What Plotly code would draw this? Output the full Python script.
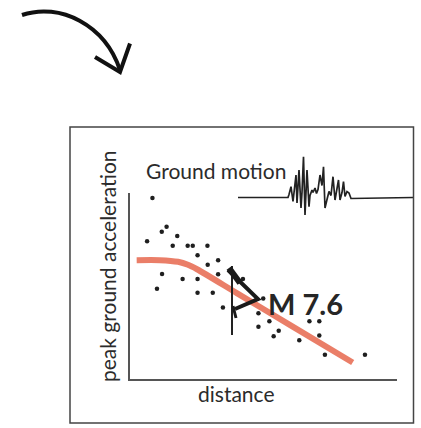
import plotly.graph_objects as go

W, H = 421, 428

# Observed peak ground acceleration vs. distance (arbitrary units, 0-100)
distance = [8.4, 13.7, 11.9, 17.7, 6.4, 16.0, 21.6, 23.5, 29.0, 25.3, 33.0,
            29.1, 12.0, 33.0, 19.7, 25.3, 42.3, 10.1, 25.3, 31.0, 34.8, 49.9,
            48.1, 52.2, 48.1, 55.7, 53.8, 63.4, 67.2, 70.9, 70.9, 73.0, 88.0]
pga = [97.3, 81.9, 79.2, 76.9, 74.1, 71.7, 71.7, 71.7, 71.7, 66.5, 63.8,
       61.4, 56.5, 56.3, 53.7, 53.7, 53.8, 48.5, 46.4, 46.4, 38.4, 43.3,
       35.3, 31.1, 28.1, 26.0, 23.0, 20.9, 31.1, 31.1, 23.4, 13.0, 13.0]

# Attenuation model (saturated near field, linear decay beyond)
model_distance = [2.5, 11.2, 18.0, 21.7, 25.1, 40.0, 60.0, 83.4]
model_pga = [63.9, 63.9, 63.0, 61.4, 59.0, 46.2, 29.0, 8.9]

# Ground-motion record: time samples and amplitude
seis_t = [0, 50, 51, 53, 55, 56, 58, 59, 60, 61, 63, 64, 65.5, 67, 69, 71,
          72, 74, 75, 77, 78.5, 80, 82, 84, 85.5, 87, 89, 91, 93, 95, 97,
          99, 100.5, 102, 104, 105.5, 107, 109, 111, 113, 175]
seis_a = [0, 0, 3, 10.8, -4, 5, 22.5, -5.5, 18, 27.5, -10.5, 5, 40.8, -17.5,
          27.5, -9.2, 2, 7.5, 5, 9.5, 4, 8, 22.5, 12, 30.8, -10.5, -2, 6, 2,
          20.8, -2.5, 8, 17.5, -2.5, 5, 15.8, 1, 6, 4.5, -1, 0]

TEXT = "#2b2b2b"
AXIS = "#555555"
FONT = "Lato"


def px(x):
    return x / W


def py(y):
    return 1 - y / H


fig = go.Figure()

fig.add_trace(go.Scatter(
    x=model_distance, y=model_pga, mode="lines",
    line=dict(color="rgba(232,112,88,0.9)", width=6, shape="spline", smoothing=0.8),
    hoverinfo="skip", showlegend=False, xaxis="x", yaxis="y"))

fig.add_trace(go.Scatter(
    x=distance, y=pga, mode="markers",
    marker=dict(color="#1f1f1f", size=4.5),
    cliponaxis=False, showlegend=False, xaxis="x", yaxis="y"))

fig.add_trace(go.Scatter(
    x=seis_t, y=seis_a, mode="lines",
    line=dict(color="#222222", width=1.7),
    hoverinfo="skip", showlegend=False, xaxis="x2", yaxis="y2"))

shapes = []

# outer frame
shapes.append(dict(type="rect", xref="paper", yref="paper",
                   x0=px(70), x1=px(413.5), y0=py(423), y1=py(127),
                   line=dict(color="#444444", width=1.5)))

# curved arrow at top-left
shapes.append(dict(type="path", xref="paper", yref="paper",
                   path=f"M {px(22)} {py(15)} C {px(60)} {py(2)}, {px(105)} {py(25)}, {px(120)} {py(70)}",
                   line=dict(color="#111111", width=4)))
shapes.append(dict(type="path", xref="paper", yref="paper",
                   path=f"M {px(95)} {py(57)} L {px(120)} {py(72)} L {px(130)} {py(43.5)}",
                   line=dict(color="#111111", width=4)))

# fault / source symbol
shapes.append(dict(type="line", xref="paper", yref="paper",
                   x0=px(232), x1=px(232), y0=py(266), y1=py(335),
                   line=dict(color="#222222", width=2), layer="above"))
shapes.append(dict(type="path", xref="paper", yref="paper",
                   path=f"M {px(228)} {py(270)} L {px(258)} {py(299)} L {px(235)} {py(309)}",
                   line=dict(color="#1a1a1a", width=4), layer="above"))
shapes.append(dict(type="line", xref="paper", yref="paper",
                   x0=px(229), x1=px(240), y0=py(268), y1=py(283),
                   line=dict(color="#1a1a1a", width=6), layer="above"))
shapes.append(dict(type="line", xref="paper", yref="paper",
                   x0=px(233), x1=px(236), y0=py(306), y1=py(318),
                   line=dict(color="#1a1a1a", width=3), layer="above"))

annotations = [
    dict(text="Ground motion", x=px(216), y=py(170), xref="paper", yref="paper",
         showarrow=False, font=dict(family=FONT, size=21, color=TEXT),
         xanchor="center", yanchor="middle"),
    dict(text="<b>M 7.6</b>", x=px(305), y=py(303), xref="paper", yref="paper",
         showarrow=False, font=dict(family=FONT, size=29, color="#262626"),
         xanchor="center", yanchor="middle"),
    dict(text="distance", x=px(236.5), y=py(393), xref="paper", yref="paper",
         showarrow=False, font=dict(family=FONT, size=21, color=TEXT),
         xanchor="center", yanchor="middle"),
    dict(text="peak ground acceleration", x=px(107), y=py(266), xref="paper", yref="paper",
         showarrow=False, textangle=-90, font=dict(family=FONT, size=21, color=TEXT),
         xanchor="center", yanchor="middle"),
]

hidden = dict(showgrid=False, zeroline=False, showticklabels=False, ticks="")

fig.update_layout(
    width=W, height=H, margin=dict(l=0, r=0, t=0, b=0),
    paper_bgcolor="white", plot_bgcolor="rgba(0,0,0,0)",
    font=dict(family=FONT),
    xaxis=dict(domain=[px(130), px(397)], range=[0, 100], showline=True,
               linecolor=AXIS, linewidth=2, anchor="y", **hidden),
    yaxis=dict(domain=[py(379), py(193)], range=[0, 100], showline=True,
               linecolor=AXIS, linewidth=2, anchor="x", **hidden),
    xaxis2=dict(domain=[px(238), px(413)], range=[0, 175], anchor="y2",
                visible=False),
    yaxis2=dict(domain=[py(228), py(152)], range=[-30.5, 45.5], anchor="x2",
                visible=False),
    shapes=shapes, annotations=annotations, showlegend=False,
)

fig.write_html("out.html")
